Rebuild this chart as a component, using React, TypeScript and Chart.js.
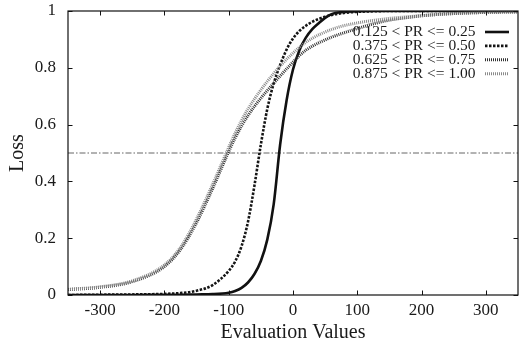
import React, { useEffect, useRef } from "react";
import { Chart, registerables } from "chart.js";

Chart.register(...registerables);

const xValues = [-350, -300, -250, -200, -175, -150, -125, -100, -90, -80, -70, -60, -50, -40, -30, -20, -10, 0, 10, 20, 30, 40, 50, 60, 75, 100, 125, 150, 175, 200, 250, 300, 350];

const seriesLabels = ["0.125 < PR <= 0.25", "0.375 < PR <= 0.50", "0.625 < PR <= 0.75", "0.875 < PR <= 1.00"];

const pr025 = [0, 0, 0, 0.001, 0.001, 0.002, 0.003, 0.008, 0.014, 0.025, 0.044, 0.074, 0.12, 0.195, 0.32, 0.53, 0.685, 0.794, 0.862, 0.906, 0.936, 0.957, 0.976, 0.989, 0.996, 0.999, 1, 1, 1, 1, 1, 1, 1];
const pr050 = [0, 0.001, 0.002, 0.004, 0.007, 0.015, 0.035, 0.085, 0.118, 0.172, 0.258, 0.385, 0.53, 0.655, 0.745, 0.81, 0.864, 0.903, 0.93, 0.948, 0.962, 0.972, 0.98, 0.986, 0.992, 0.997, 0.999, 1, 1, 1, 1, 1, 1];
const pr075 = [0.019, 0.027, 0.047, 0.1, 0.16, 0.255, 0.375, 0.505, 0.553, 0.595, 0.632, 0.664, 0.693, 0.72, 0.746, 0.771, 0.796, 0.82, 0.843, 0.862, 0.876, 0.888, 0.898, 0.908, 0.92, 0.938, 0.955, 0.968, 0.976, 0.983, 0.991, 0.995, 0.997];
const pr100 = [0.02, 0.029, 0.05, 0.106, 0.168, 0.268, 0.39, 0.52, 0.57, 0.615, 0.655, 0.69, 0.722, 0.752, 0.78, 0.806, 0.83, 0.852, 0.872, 0.89, 0.904, 0.916, 0.926, 0.935, 0.946, 0.958, 0.967, 0.974, 0.979, 0.984, 0.991, 0.995, 0.997];

const referenceLevel = 0.5;
const xTicks = [-300, -200, -100, 0, 100, 200, 300];
const yTicks = [0, 0.2, 0.4, 0.6, 0.8, 1];

const FONT = '"Liberation Serif", "Times New Roman", serif';
const INK = "#1a1a1a";

const styles = [
  { color: "#111111", width: 2.6, dash: [] as number[] },
  { color: "#151515", width: 2.6, dash: [2.5, 1.5] },
  { color: "#333333", width: 3, dash: [1, 1] },
  { color: "#8a8a8a", width: 3, dash: [1, 1] },
];

const framePlugin = {
  id: "frame",
  afterDraw(chart: any) {
    const { ctx, chartArea: a, scales } = chart;
    const xs = scales.x;
    const ys = scales.y;
    ctx.save();
    ctx.strokeStyle = "#111";
    ctx.lineWidth = 1.2;
    ctx.setLineDash([]);
    ctx.strokeRect(a.left, a.top, a.right - a.left, a.bottom - a.top);
    const tl = 4.5;
    ctx.beginPath();
    xTicks.forEach((v) => {
      const px = Math.round(xs.getPixelForValue(v)) + 0.5;
      ctx.moveTo(px, a.bottom);
      ctx.lineTo(px, a.bottom - tl);
      ctx.moveTo(px, a.top);
      ctx.lineTo(px, a.top + tl);
    });
    yTicks.forEach((v) => {
      const py = Math.round(ys.getPixelForValue(v)) + 0.5;
      ctx.moveTo(a.left, py);
      ctx.lineTo(a.left + tl, py);
      ctx.moveTo(a.right, py);
      ctx.lineTo(a.right - tl, py);
    });
    ctx.lineWidth = 1;
    ctx.stroke();

    // legend
    ctx.font = `15.5px ${FONT}`;
    ctx.fillStyle = INK;
    ctx.textAlign = "right";
    ctx.textBaseline = "middle";
    seriesLabels.forEach((t, i) => {
      const y = 32 + i * 13.9;
      ctx.fillText(t, 475.5, y);
      const s = styles[i];
      ctx.beginPath();
      ctx.strokeStyle = s.color;
      ctx.lineWidth = s.width;
      ctx.setLineDash(s.dash);
      ctx.moveTo(485, y);
      ctx.lineTo(509, y);
      ctx.stroke();
    });
    ctx.restore();
  },
};

export default function App() {
  const ref = useRef<HTMLCanvasElement>(null);
  useEffect(() => {
    const mk = (vals: number[]) => xValues.map((x, i) => ({ x, y: vals[i] }));
    const series = [pr025, pr050, pr075, pr100];
    const curveSets = series.map((vals, i) => ({
      label: seriesLabels[i],
      data: mk(vals),
      borderColor: styles[i].color,
      borderWidth: styles[i].width,
      borderDash: styles[i].dash,
      borderCapStyle: "butt",
      pointRadius: 0,
      fill: false,
      cubicInterpolationMode: "monotone",
    }));
    const chart = new Chart(ref.current!, {
      type: "line",
      data: {
        datasets: [
          ...curveSets.slice().reverse(),
          {
            label: "level",
            data: [
              { x: -350, y: referenceLevel },
              { x: 350, y: referenceLevel },
            ],
            borderColor: "#666",
            borderWidth: 1,
            borderDash: [6, 2, 1.5, 2],
            pointRadius: 0,
            fill: false,
          },
        ] as any,
      },
      options: {
        responsive: false,
        animation: false,
        layout: { padding: { top: 0, right: 14, left: 0, bottom: 0 } },
        plugins: { legend: { display: false }, tooltip: { enabled: false } },
        scales: {
          x: {
            type: "linear",
            min: -350,
            max: 350,
            grid: { display: false, drawTicks: false },
            border: { display: false },
            afterBuildTicks: (s: any) => {
              s.ticks = xTicks.map((v) => ({ value: v }));
            },
            afterFit: (s: any) => {
              s.height = 50;
              s.paddingLeft = 0;
              s.paddingRight = 0;
            },
            ticks: {
              font: { family: FONT, size: 17 },
              color: INK,
              padding: 5,
              maxRotation: 0,
              callback: (v: any) => String(v),
            },
            title: {
              display: true,
              text: "Evaluation Values",
              font: { family: FONT, size: 20 },
              color: INK,
              padding: { top: 0, bottom: 0 },
            },
          },
          y: {
            type: "linear",
            min: 0,
            max: 1,
            grid: { display: false, drawTicks: false },
            border: { display: false },
            afterBuildTicks: (s: any) => {
              s.ticks = yTicks.map((v) => ({ value: v }));
            },
            afterFit: (s: any) => {
              s.width = 68;
              s.paddingTop = 11;
              s.paddingBottom = 0;
            },
            ticks: {
              font: { family: FONT, size: 17 },
              color: INK,
              padding: 12,
              callback: (v: any) => String(Math.round(v * 10) / 10),
            },
            title: {
              display: true,
              text: "Loss",
              font: { family: FONT, size: 20 },
              color: INK,
              padding: { top: 6, bottom: 0 },
            },
          },
        },
      } as any,
      plugins: [framePlugin],
    });
    return () => chart.destroy();
  }, []);
  return (
    <div style={{ position: "fixed", left: 0, top: 0, width: 532, height: 345, background: "#fff" }}>
      <canvas ref={ref} width={532} height={345} style={{ display: "block" }} />
    </div>
  );
}
